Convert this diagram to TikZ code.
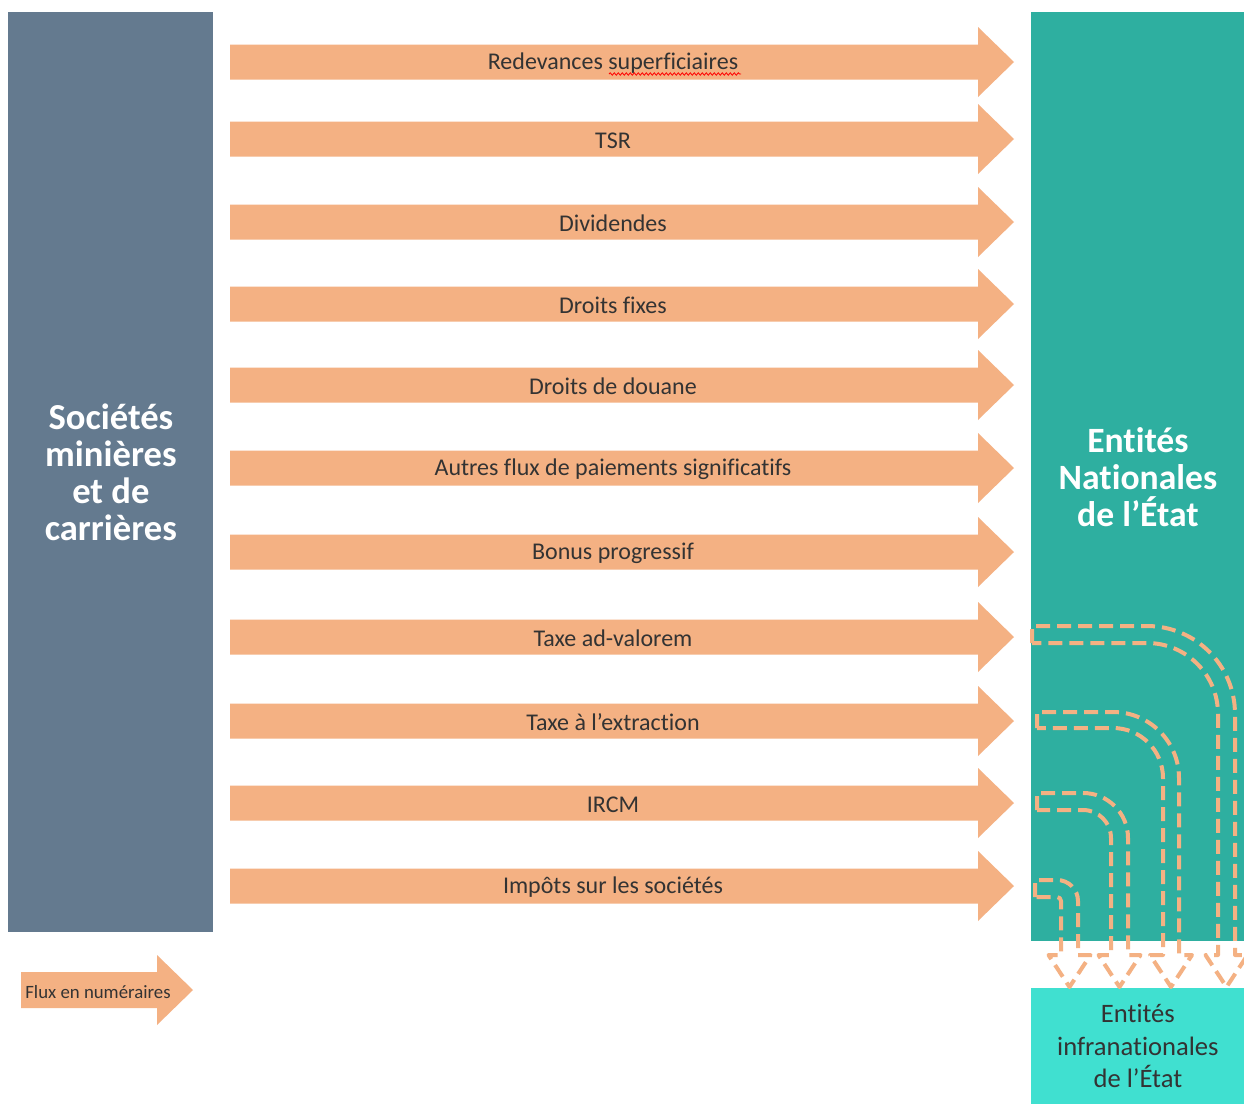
\documentclass[tikz,border=0pt]{standalone}
\usepackage{fontspec}
\setmainfont{Carlito}[Ligatures={NoCommon}]
\usetikzlibrary{decorations.pathmorphing}
\definecolor{slate}{RGB}{100,122,143}
\definecolor{tealbox}{RGB}{46,175,160}
\definecolor{turq}{RGB}{64,224,208}
\definecolor{flow}{RGB}{244,177,131}
\definecolor{txt}{RGB}{51,51,51}
\tikzset{
  lbl/.style={text=txt, inner sep=0pt, font=\fontsize{12}{13}\selectfont},
  bigbox/.style={anchor=north west, inner sep=0pt, align=center, text=white,
     font=\bfseries\fontsize{18.3}{18.5}\selectfont},
  dashflow/.style={draw=flow, line width=2pt, dash pattern=on 7pt off 3.5pt, line join=round},
}
\newcommand\flowarrow[3]{%
  \fill[flow] (230,#2-17.5) -- (978,#2-17.5) -- (978,#2-35) -- (1014,#2) -- (978,#2+35) -- (978,#2+17.5) -- (230,#2+17.5) -- cycle;
  \node[lbl] (#1) at (613,#2+1.5) {#3};}
\newcommand\bentflow[5]{%
  \draw[dashflow] (#1,#2+#5) -- (#1,#2) -- (#3-#4,#2) arc[start angle=-90,end angle=0,radius=#4]
    -- (#3,955) -- (#3-#5/2+21,955) -- (#3-#5/2,987) -- (#3-#5/2-21,955) -- (#3-#5,955)
    -- (#3-#5,#2+#4) arc[start angle=0,end angle=-90,radius=#4-#5] -- cycle;}
\begin{document}
\begin{tikzpicture}[x=0.5pt,y=-0.5pt]
\useasboundingbox (0,0) rectangle (1244,1104);
\clip (0,0) rectangle (1244,1104);
\fill[white] (0,0) rectangle (1244,1104);
% boxes
\node[bigbox, fill=slate, minimum width=102.5pt, minimum height=460pt] (soc) at (8,12)
  {Sociétés\\minières\\et de\\carrières};
\node[bigbox, fill=tealbox, minimum width=106.5pt, minimum height=464.5pt,
  font=\bfseries\fontsize{17.8}{18.5}\selectfont] (nat) at (1031,12)
  {Entités\\Nationales\\de l’État};
\node[bigbox, fill=turq, text=txt, minimum width=106.5pt, minimum height=58pt,
  font=\fontsize{13.3}{16.25}\selectfont] (infra) at (1031,988)
  {Entités\\infranationales\\de l’État};
% flow arrows
\flowarrow{a1}{62}{Redevances superficiaires}
\flowarrow{a2}{139}{TSR}
\flowarrow{a3}{222}{Dividendes}
\flowarrow{a4}{304}{Droits fixes}
\flowarrow{a5}{385}{Droits de douane}
\flowarrow{a6}{468}{Autres flux de paiements significatifs}
\flowarrow{a7}{552}{Bonus progressif}
\flowarrow{a8}{637}{Taxe ad-valorem}
\flowarrow{a9}{721}{Taxe à l’extraction}
\flowarrow{a10}{803}{IRCM}
\flowarrow{a11}{886}{Impôts sur les sociétés}
% spell-check underline
\draw[red, line width=0.4pt, decorate, decoration={snake, segment length=2pt, amplitude=0.6pt}]
  (609,74) -- (741,74);
% bent dashed flows
\bentflow{1032}{626}{1235}{88}{17}
\bentflow{1037}{712}{1179}{66}{16}
\bentflow{1037}{793}{1128}{45}{17}
\bentflow{1035}{880}{1078}{21}{17}
% legend
\fill[flow] (21,972) -- (157,972) -- (157,955) -- (193,990) -- (157,1025) -- (157,1008) -- (21,1008) -- cycle;
\node[lbl, font=\fontsize{9.4}{11}\selectfont] (leg) at (98,992) {Flux en numéraires};
\end{tikzpicture}
\end{document}
